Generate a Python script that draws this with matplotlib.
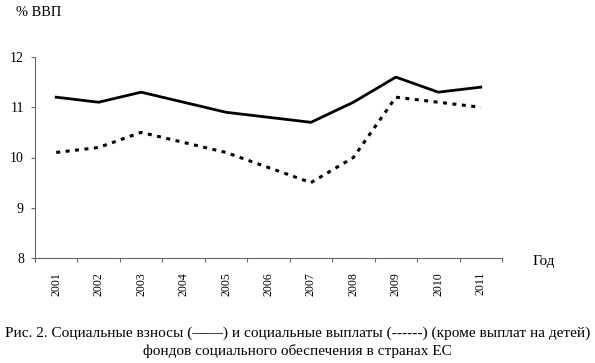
import matplotlib
matplotlib.use("Agg")
import matplotlib.pyplot as plt
import numpy as np

years = ["2001", "2002", "2003", "2004", "2005", "2006", "2007", "2008", "2009", "2010", "2011"]
contributions = [11.2, 11.1, 11.3, 11.1, 10.9, 10.8, 10.7, 11.1, 11.6, 11.3, 11.4]
payments = [10.1, 10.2, 10.5, 10.3, 10.1, 9.8, 9.5, 10.0, 11.2, 11.1, 11.0]
yticks = [8, 9, 10, 11, 12]

plt.rcParams['font.family'] = ['Liberation Serif', 'DejaVu Serif']

fig = plt.figure(figsize=(5.95, 3.63), dpi=100)
ax = fig.add_axes([35/595, 1-258/363, (502-35)/595, (258-57)/363])

x = np.arange(len(years))
ax.plot(x, contributions, color='black', lw=2.0, solid_joinstyle='round')
ax.plot(x, payments, color='black', lw=2.2, linestyle=(0, (1.3, 1.8)))

ax.set_xlim(-0.5, len(years) - 0.5)
ax.set_ylim(8, 12)
ax.set_yticks(yticks)
ax.set_yticklabels([str(v) for v in yticks], fontsize=10)

ax.set_xticks(x)
ax.set_xticklabels(years, rotation=90, fontsize=8.5)
ax.set_xticks(np.arange(-0.5, len(years)), minor=True)
ax.tick_params(axis='x', which='major', length=0, pad=10)
ax.tick_params(axis='x', which='minor', length=3, width=0.8, color='#666666', direction='out')
ax.tick_params(axis='y', length=3, width=0.8, color='#666666', direction='out', pad=5)

for s in ['top', 'right']:
    ax.spines[s].set_visible(False)
for s in ['left', 'bottom']:
    ax.spines[s].set_color('#666666')
    ax.spines[s].set_linewidth(0.8)

fig.text(16/595, 1-13/363, "% ВВП", fontsize=10.4, va='center', ha='left')
fig.text(533/595, 1-262/363, "Год", fontsize=11, va='center', ha='left')

fig.text(0.5, 1-333/363, "Рис. 2. Социальные взносы (——) и социальные выплаты (------) (кроме выплат на детей)",
         fontsize=11, ha='center', va='center')
fig.text(0.5, 1-351/363, "фондов социального обеспечения в странах ЕС",
         fontsize=11, ha='center', va='center')

fig.savefig("out.png", dpi=100)
